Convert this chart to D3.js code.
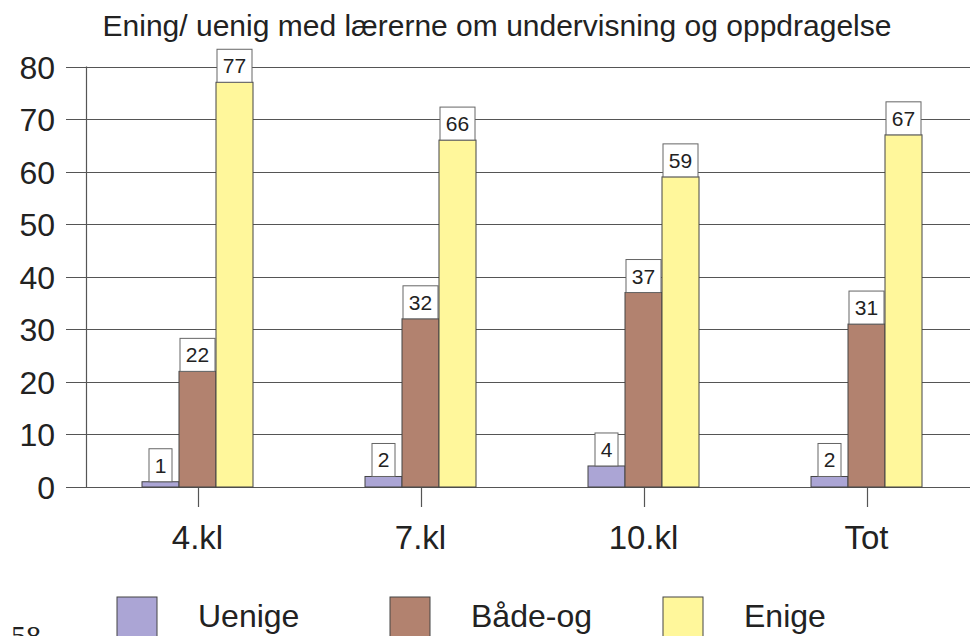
<!DOCTYPE html>
<html>
<head>
<meta charset="utf-8">
<script src="https://cdn.jsdelivr.net/npm/d3@7"></script>
<style>
  body { margin: 0; background: #fff; overflow: hidden; }
  text { font-family: Arial, "Liberation Sans", sans-serif; fill: #222; }
</style>
</head>
<body>
<script>

var categories = ["4.kl", "7.kl", "10.kl", "Tot"];
var seriesNames = ["Uenige", "Både-og", "Enige"];
var uenige = [1, 2, 4, 2];
var badeOg = [22, 32, 37, 31];
var enige = [77, 66, 59, 67];
var yTicks = [0, 10, 20, 30, 40, 50, 60, 70, 80];

var colors = ["#aba5d5", "#b2826f", "#fff79b"];
var seriesValues = [uenige, badeOg, enige];

var svg = d3.select("body")
    .append("svg")
        .attr("width", 970)
        .attr("height", 636);

var x = d3.scaleBand()
    .domain(categories)
    .range([86, 978]);

var xInner = d3.scaleBand()
    .domain(seriesNames)
    .range([0, 111]);

var y = d3.scaleLinear()
    .domain([0, 80])
    .range([487, 66.5]);

// title
svg.append("text")
    .attr("x", 497)
    .attr("y", 36)
    .attr("text-anchor", "middle")
    .style("font-size", "30px")
    .text("Ening/ uenig med lærerne om undervisning og oppdragelse");

// gridlines + y ticks
svg.append("g")
    .selectAll("line")
    .data(yTicks)
    .join("line")
        .attr("x1", 66)
        .attr("x2", 978)
        .attr("y1", d => Math.round(y(d)) + 0.5)
        .attr("y2", d => Math.round(y(d)) + 0.5)
        .attr("stroke", "#555")
        .attr("stroke-width", 1.2);

svg.append("g")
    .selectAll("text")
    .data(yTicks)
    .join("text")
        .attr("x", 55)
        .attr("y", d => y(d) + 12)
        .attr("text-anchor", "end")
        .style("font-size", "32px")
        .text(d => d);

// y axis line
svg.append("line")
    .attr("x1", 86.5).attr("x2", 86.5)
    .attr("y1", y(80)).attr("y2", y(0))
    .attr("stroke", "#555")
    .attr("stroke-width", 1.2);

// x ticks
svg.append("g")
    .selectAll("line")
    .data(categories)
    .join("line")
        .attr("x1", d => Math.round(x(d) + x.bandwidth() / 2) + 0.5)
        .attr("x2", d => Math.round(x(d) + x.bandwidth() / 2) + 0.5)
        .attr("y1", y(0))
        .attr("y2", y(0) + 20)
        .attr("stroke", "#555")
        .attr("stroke-width", 1.2);

svg.append("g")
    .selectAll("text")
    .data(categories)
    .join("text")
        .attr("x", d => x(d) + x.bandwidth() / 2)
        .attr("y", 549)
        .attr("text-anchor", "middle")
        .style("font-size", "33px")
        .text(d => d);

// bars
var groups = svg.append("g")
    .selectAll("g")
    .data(categories)
    .join("g")
        .attr("transform", d => "translate(" + (x(d) + x.bandwidth() / 2 - 55.5) + ",0)");

var cells = groups.selectAll("g")
    .data((c, i) => seriesNames.map((s, j) => ({ s: s, j: j, v: seriesValues[j][i] })))
    .join("g");

cells.append("rect")
    .attr("x", d => xInner(d.s))
    .attr("y", d => y(d.v))
    .attr("width", xInner.bandwidth())
    .attr("height", d => y(0) - y(d.v))
    .attr("fill", d => colors[d.j])
    .attr("stroke", "#444")
    .attr("stroke-width", 1);

// value labels
cells.append("rect")
    .attr("x", d => xInner(d.s) + xInner.bandwidth() / 2 - (d.v < 10 ? 11.5 : 17.5))
    .attr("y", d => y(d.v) - 33)
    .attr("width", d => d.v < 10 ? 23 : 35)
    .attr("height", 33)
    .attr("fill", "#fff")
    .attr("stroke", "#666")
    .attr("stroke-width", 1);

cells.append("text")
    .attr("x", d => xInner(d.s) + xInner.bandwidth() / 2)
    .attr("y", d => y(d.v) - 9)
    .attr("text-anchor", "middle")
    .style("font-size", "21px")
    .text(d => d.v);

// legend
var legendX = [117, 390, 663];
var legend = svg.append("g")
    .selectAll("g")
    .data(seriesNames)
    .join("g")
        .attr("transform", (d, i) => "translate(" + legendX[i] + ",597)");

legend.append("rect")
    .attr("width", 40)
    .attr("height", 42)
    .attr("fill", (d, i) => colors[i])
    .attr("stroke", "#444")
    .attr("stroke-width", 1);

legend.append("text")
    .attr("x", 81)
    .attr("y", 30)
    .style("font-size", "32px")
    .text(d => d);

// page number
svg.append("text")
    .attr("x", 11)
    .attr("y", 646)
    .style("font-family", "'Liberation Serif', 'DejaVu Serif', serif")
    .style("font-size", "30px")
    .text("58");

</script>
</body>
</html>
